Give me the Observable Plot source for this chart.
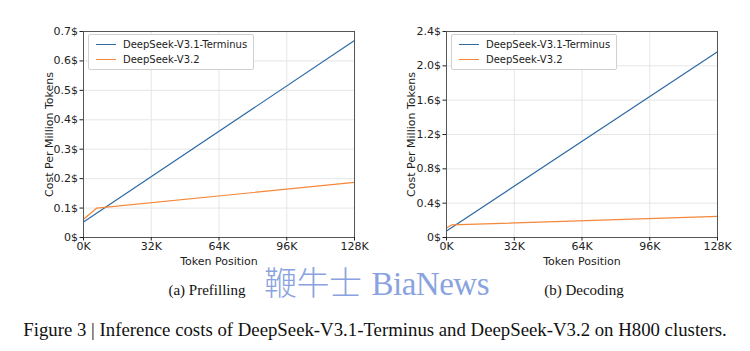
<!DOCTYPE html>
<html>
<head>
<meta charset="utf-8">
<script src="https://cdn.jsdelivr.net/npm/d3@7"></script>
<script src="https://cdn.jsdelivr.net/npm/@observablehq/plot@0.6"></script>
<style>
  body { margin: 0; background: #fff; }
  #wrap { position: relative; width: 750px; height: 351px; overflow: hidden; font-family: "DejaVu Sans", sans-serif; }
  .panel { position: absolute; top: 0; }
  .legend { position: absolute; border: 1px solid #d0d0d0; border-radius: 2px; background: #fff; font-size: 10px; color: #222; padding: 2px 6px 2px 7px; line-height: 15px; }
  .legend .row { display: flex; align-items: center; white-space: nowrap; }
  .legend .sw { width: 20px; height: 0; border-top: 1.2px solid; margin-right: 7px; }
  .sub { position: absolute; font-family: "Liberation Serif", "DejaVu Serif", serif; font-size: 15px; color: #111; transform: translateX(-50%); white-space: nowrap; }
  .cap { position: absolute; left: 0; width: 750px; text-align: center; font-family: "Liberation Serif", "DejaVu Serif", serif; font-size: 18.8px; color: #111; white-space: nowrap; }
  .wm { position: absolute; left: 264px; top: 257px; color: #8aa3e0; font-size: 33px; white-space: nowrap; letter-spacing: -0.5px; }
  .wm .cn { font-family: "Noto Sans CJK SC", sans-serif; font-weight: 300; }
  .wm .en { font-family: "Liberation Serif", serif; }
</style>
</head>
<body>
<div id="wrap"></div>
<script>
// Data (token position in K, cost in $ per million tokens)
const seriesNames = ["DeepSeek-V3.1-Terminus", "DeepSeek-V3.2"];
const colors = ["#2f6aa6", "#f5873a"];
const xTicks = [0, 32, 64, 96, 128];

const prefillTerminusX = [0, 128];
const prefillTerminusY = [0.053, 0.669];
const prefillV32X = [0, 6.3, 128];
const prefillV32Y = [0.062, 0.100, 0.187];
const prefillYTicks = [0, 0.1, 0.2, 0.3, 0.4, 0.5, 0.6, 0.7];

const decodeTerminusX = [0, 128];
const decodeTerminusY = [0.077, 2.164];
const decodeV32X = [0, 2.4, 128];
const decodeV32Y = [0.11, 0.146, 0.247];
const decodeYTicks = [0, 0.4, 0.8, 1.2, 1.6, 2.0, 2.4];

const toRows = (xs, ys, s) => xs.map((x, i) => ({x, y: ys[i], s}));
const yFmt = d => d === 0 ? "0$" : d.toFixed(1) + "$";

function panel(rows, yMax, yTicks, m) {
  return Plot.plot({
    width: 375, height: 270,
    marginTop: 31, marginBottom: 33, marginLeft: m.left, marginRight: m.right,
    style: {fontFamily: "DejaVu Sans, sans-serif", fontSize: "10px", color: "#222", background: "transparent"},
    x: {domain: [0, 128]},
    y: {domain: [0, yMax]},
    color: {domain: seriesNames, range: colors},
    marks: [
      Plot.gridX(xTicks, {stroke: "#e6e6e6", strokeOpacity: 1}),
      Plot.gridY(yTicks, {stroke: "#e6e6e6", strokeOpacity: 1}),
      Plot.line(rows, {x: "x", y: "y", z: "s", stroke: "s", strokeWidth: 1.2}),
      Plot.frame({stroke: "#555", strokeWidth: 1}),
      Plot.axisX({ticks: xTicks, tickFormat: d => d + "K", tickSize: 3.5, tickPadding: 1, label: "Token Position", labelAnchor: "center", labelArrow: "none", labelOffset: 27, fontSize: 11}),
      Plot.axisY({ticks: yTicks, tickFormat: yFmt, tickSize: 3.5, tickPadding: 2, label: "Cost Per Million Tokens", labelAnchor: "center", labelArrow: "none", labelOffset: m.labelOffset, fontSize: 11})
    ]
  });
}

const wrap = document.getElementById("wrap");

const left = panel(
  [...toRows(prefillTerminusX, prefillTerminusY, seriesNames[0]), ...toRows(prefillV32X, prefillV32Y, seriesNames[1])],
  0.7, prefillYTicks, {left: 83, right: 21, labelOffset: 38});
left.classList.add("panel"); left.style.left = "0px";
wrap.appendChild(left);

const right = panel(
  [...toRows(decodeTerminusX, decodeTerminusY, seriesNames[0]), ...toRows(decodeV32X, decodeV32Y, seriesNames[1])],
  2.4, decodeYTicks, {left: 71, right: 33, labelOffset: 39});
right.classList.add("panel"); right.style.left = "375px";
wrap.appendChild(right);

function legend(x, y) {
  const d = document.createElement("div");
  d.className = "legend";
  d.style.left = x + "px"; d.style.top = y + "px";
  seriesNames.forEach((n, i) => {
    const r = document.createElement("div"); r.className = "row";
    const sw = document.createElement("span"); sw.className = "sw"; sw.style.borderColor = colors[i];
    const t = document.createElement("span"); t.textContent = n;
    r.appendChild(sw); r.appendChild(t); d.appendChild(r);
  });
  wrap.appendChild(d);
}
legend(88, 34);
legend(451, 34);

function addText(cls, text, x, y) {
  const d = document.createElement("div");
  d.className = cls; d.textContent = text;
  if (x !== null) d.style.left = x + "px";
  d.style.top = y + "px";
  wrap.appendChild(d);
}
addText("sub", "(a) Prefilling", 207, 282);
addText("sub", "(b) Decoding", 584, 282);
addText("cap", "Figure 3 | Inference costs of DeepSeek-V3.1-Terminus and DeepSeek-V3.2 on H800 clusters.", null, 319);

const wm = document.createElement("div");
wm.className = "wm";
wm.innerHTML = '<span class="cn">鞭牛士</span> <span class="en">BiaNews</span>';
wrap.appendChild(wm);
</script>
</body>
</html>
